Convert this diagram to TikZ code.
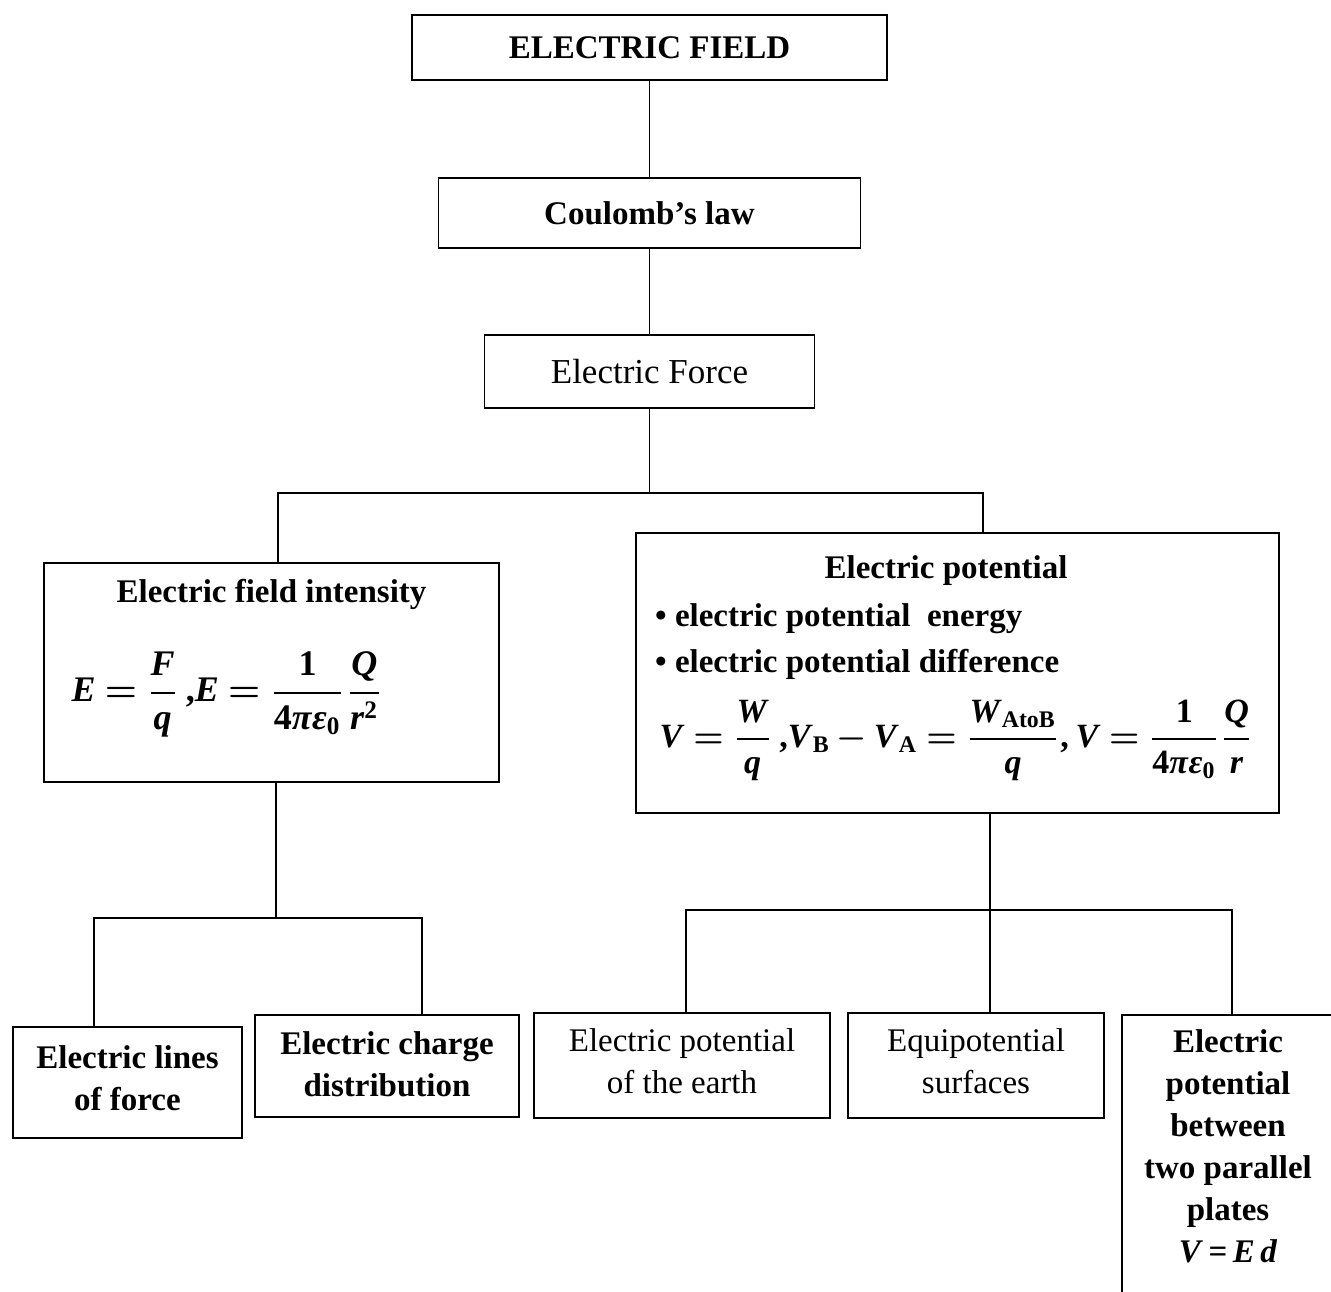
\documentclass[tikz,border=0pt]{standalone}
\usepackage{amsmath}
\usepackage{fontspec}
\setmainfont{Liberation Serif}
% bold italic letter for the formulas
\newcommand{\bim}[1]{\textbf{\textit{#1}}}
% tighter spacing around relations and binary operators
\newcommand{\tightmath}{\thickmuskip=4mu \medmuskip=3mu }
\begin{document}
\begin{tikzpicture}[x=1pt,y=-1pt,
  box/.style={draw, line width=1.8pt, inner sep=0pt, align=center,
    font=\fontsize{33}{42}\selectfont\bfseries},
  thin/.style={font=\fontsize{33}{42}\selectfont\mdseries},
  txt/.style={inner sep=0pt, font=\fontsize{33}{46}\selectfont\bfseries},
  formula/.style={inner sep=0pt, font=\fontsize{10}{12}\selectfont\boldmath,
    transform shape},
  link/.style={line width=1.5pt}]
\path[use as bounding box, fill=white] (0,0) rectangle (1331,1292);
\clip (0,0) rectangle (1331,1292);

% chain at the top
\node[box, minimum width=475pt, minimum height=65pt] (top) at (649.5,47.5) {ELECTRIC FIELD};
\node[box, minimum width=422pt, minimum height=70pt] (coul) at (649.5,213) {Coulomb’s law};
\node[box, font=\fontsize{35}{42}\selectfont\mdseries, minimum width=330pt, minimum height=73pt] (force) at (649.5,371.5) {Electric Force};

% the two main branches
\node[box, minimum width=455pt, minimum height=219pt] (efi) at (271.5,672.5) {};
\node[txt] (efiT) at (271.5,594) {Electric field intensity};
\node[formula, scale=3.6, anchor=west] (efiM) at (71,694)
  {$\tightmath\bim{E}=\dfrac{\bim{F}}{\bim{q}}\,\textbf{,}\bim{E}=\dfrac{\textbf{1}}{\textbf{4}\bim{π}\bim{ε}_{\textbf{0}}}\dfrac{\bim{Q}}{\bim{r}^{\textbf{2}}}$};

\node[box, minimum width=643pt, minimum height=280pt] (pot) at (957.5,673) {};
\node[txt] (potT) at (946,571) {Electric potential};
\node[txt, anchor=west] (potB1) at (655,619) {• electric potential\ \ energy};
\node[txt, anchor=west] (potB2) at (655,664) {• electric potential difference};
\node[formula, scale=3.4, anchor=west] (potM) at (659,740)
  {$\tightmath\bim{V}=\dfrac{\bim{W}}{\bim{q}}\,\textbf{,}\bim{V}_{\textbf{B}}-\bim{V}_{\textbf{A}}=\dfrac{\bim{W}_{\textbf{AtoB}}}{\bim{q}}\textbf{,}\,\bim{V}=\dfrac{\textbf{1}}{\textbf{4}\bim{π}\bim{ε}_{\textbf{0}}}\dfrac{\bim{Q}}{\bim{r}}$};

% leaves
\node[box, minimum width=229pt, minimum height=111pt] (lines) at (127.5,1082.5) {Electric lines\\of force\rule[-8pt]{0pt}{8pt}};
\node[box, minimum width=264pt, minimum height=102pt] (charge) at (387,1066) {Electric charge\\distribution\rule[-4pt]{0pt}{4pt}};
\node[box, thin, minimum width=296pt, minimum height=105pt] (earth) at (682,1065.5) {Electric potential\\of the earth\rule[-8pt]{0pt}{8pt}};
\node[box, thin, minimum width=256pt, minimum height=105pt] (equi) at (976,1065.5) {Equipotential\\surfaces\rule[-8pt]{0pt}{8pt}};
\node[box, minimum width=212pt, minimum height=300pt, anchor=north] (plates) at (1228,1014)
  {Electric\\potential\\between\\two parallel\\plates\\\bim{V}\,=\,\bim{E}\,\bim{d}\rule[-38pt]{0pt}{38pt}};

% connectors
\draw[link] (top) -- (coul);
\draw[link] (coul) -- (force);
\coordinate (j1) at (649.5,493);
\draw[link] (force.south) -- (j1);
\draw[link] ([xshift=6.5pt]efi.north) |- (j1) -| ([xshift=25.5pt]pot.north);

\coordinate (j2) at (276,918);
\draw[link] ([xshift=4.5pt]efi.south) -- (j2);
\draw[link] ([xshift=-33.5pt]lines.north) |- (j2) -| ([xshift=35pt]charge.north);

\coordinate (j3) at (990,910);
\draw[link] ([xshift=32.5pt]pot.south) -- (j3);
\draw[link] ([xshift=4pt]earth.north) |- (j3) -| ([xshift=4pt]plates.north);
\draw[link] (j3) -- ([xshift=14pt]equi.north);
\end{tikzpicture}
\end{document}
